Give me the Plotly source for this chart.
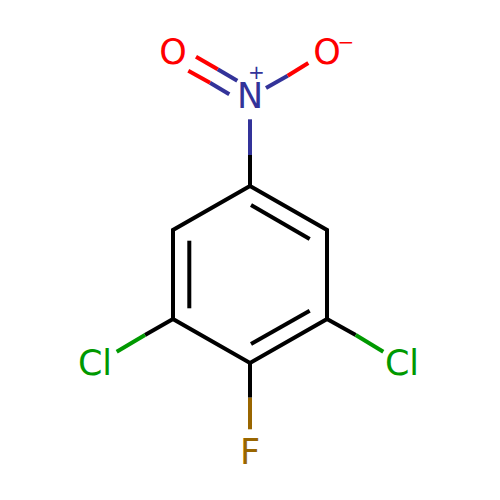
import plotly.graph_objects as go

# ring, closed path, top atom first, going clockwise
ring_x = [250, 327, 327, 250, 173, 173, 250]
ring_y = [186, 230, 319, 363, 319, 230, 186]

# inner lines of the aromatic double bonds
inner_x = [[251, 309.7], [309.7, 251], [189.3, 189.3]]
inner_y = [[205, 239], [310.7, 344], [240.7, 308.3]]

# bonds with two colours: start, colour change, end
bond_x = [[250, 250, 250],
          [237.3, 217.7, 196],
          [229.3, 210, 188.3],
          [266, 287.7, 308.3],
          [173, 145, 116.7],
          [327, 355.7, 383.3],
          [250, 250, 250]]
bond_y = [[186, 155, 119.3],
          [80.7, 69.3, 56.7],
          [94.3, 82.7, 70.7],
          [88, 75.7, 63],
          [319, 335, 351.7],
          [319, 335, 351.7],
          [363, 397.7, 429.3]]
bond_c1 = ["black", "#333399", "#333399", "#333399", "black", "black", "black"]
bond_c2 = ["#333399", "#FF0000", "#FF0000", "#FF0000", "#009900", "#009900", "#996600"]

# atom labels
labels = ["O", "N", "O", "Cl", "Cl", "F"]
label_x = [173, 250, 327, 95, 402, 250]
label_y = [55.5, 99.5, 55.5, 366, 366, 455]
label_c = ["#FF0000", "#333399", "#FF0000", "#009900", "#009900", "#996600"]

# charges
charges = ["+", "\u2212"]
charge_x = [256.5, 346]
charge_y = [74, 44]
charge_c = ["#333399", "#FF0000"]

LW = 4

fig = go.Figure()

def add_line(xs, ys, color):
    fig.add_trace(go.Scatter(x=xs, y=ys, mode="lines", line=dict(color=color, width=LW),
                             hoverinfo="skip", showlegend=False))

add_line(ring_x, ring_y, "black")
for xs, ys in zip(inner_x, inner_y):
    add_line(xs, ys, "black")
for xs, ys, c1, c2 in zip(bond_x, bond_y, bond_c1, bond_c2):
    add_line(xs[:2], ys[:2], c1)
    add_line(xs[1:], ys[1:], c2)

fig.add_trace(go.Scatter(x=label_x, y=label_y, mode="text", text=labels,
                         textposition="middle center",
                         textfont=dict(family="DejaVu Sans", size=35, color=label_c),
                         hoverinfo="skip", showlegend=False))
fig.add_trace(go.Scatter(x=charge_x, y=charge_y, mode="text", text=charges,
                         textposition="middle center",
                         textfont=dict(family="DejaVu Sans", size=20, color=charge_c),
                         hoverinfo="skip", showlegend=False))

fig.update_layout(width=500, height=500, margin=dict(l=0, r=0, t=0, b=0),
                  paper_bgcolor="white", plot_bgcolor="white")
fig.update_xaxes(range=[0, 500], visible=False)
fig.update_yaxes(range=[500, 0], visible=False)
# page margin would push the 500px figure off by 8px
fig.write_html("out.html", post_script="document.body.style.margin='0';",
               config=dict(displayModeBar=False))
